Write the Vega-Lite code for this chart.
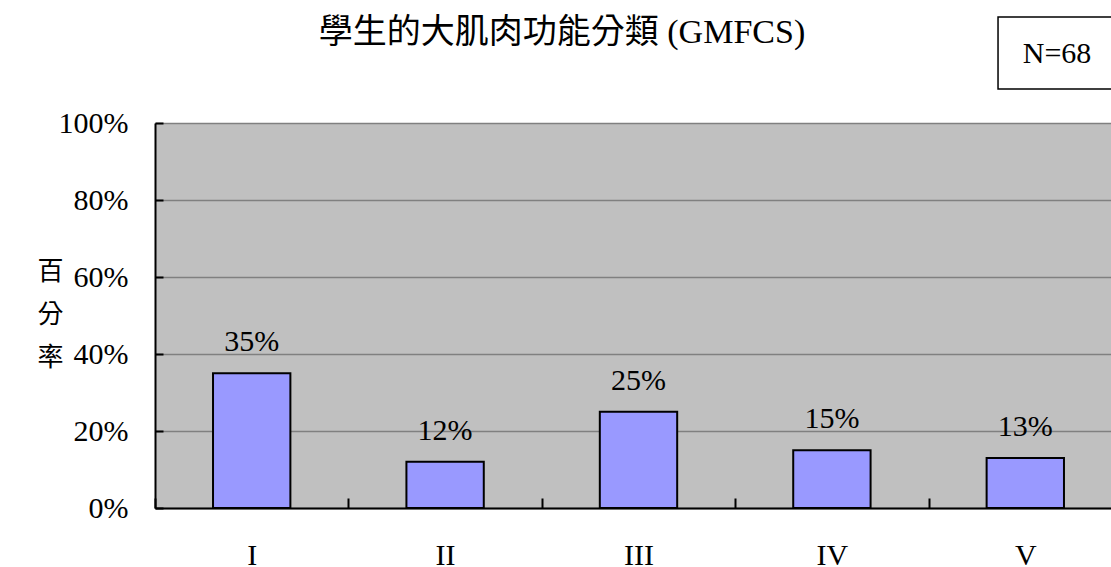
{
  "$schema": "https://vega.github.io/schema/vega-lite/v6.json",
  "autosize": {"type": "none"},
  "width": 956,
  "height": 385,
  "padding": {"left": 155, "top": 123, "right": 0, "bottom": 59},
  "background": "white",
  "title": {
    "text": "學生的大肌肉功能分類 (GMFCS)",
    "font": "Liberation Serif, Noto Sans CJK TC",
    "fontSize": 34,
    "fontWeight": "normal",
    "color": "black",
    "anchor": "middle",
    "frame": "group",
    "dx": -71,
    "offset": -61,
    "baseline": "alphabetic"
  },
  "config": {
    "view": {"fill": "#C0C0C0", "stroke": null},
    "font": "Liberation Serif"
  },
  "data": {
    "values": [
      {"grade": "I", "pct": 0.35},
      {"grade": "II", "pct": 0.12},
      {"grade": "III", "pct": 0.25},
      {"grade": "IV", "pct": 0.15},
      {"grade": "V", "pct": 0.13}
    ]
  },
  "layer": [
    {
      "mark": {"type": "bar", "fill": "#9999FF", "stroke": "black", "strokeWidth": 2, "width": {"band": 0.4}},
      "encoding": {
        "x": {
          "field": "grade",
          "type": "nominal",
          "sort": null,
          "scale": {"range": [0, 967], "paddingInner": 0, "paddingOuter": 0},
          "axis": {
            "title": null,
            "labelAngle": 0,
            "labelFont": "Liberation Serif",
            "labelFontSize": 30,
            "labelColor": "black",
            "labelBaseline": "alphabetic",
            "labelPadding": 66,
            "domainColor": "black",
            "domainWidth": 2,
            "tickColor": "black",
            "tickWidth": 2,
            "tickSize": -10,
            "tickBand": "extent",
            "grid": false
          }
        },
        "y": {
          "field": "pct",
          "type": "quantitative",
          "scale": {"domain": [0, 1], "nice": false},
          "axis": {
            "title": ["百", "分", "率"],
            "titleAngle": 0,
            "titleFont": "Noto Sans CJK TC",
            "titleFontSize": 26,
            "titleFontWeight": "normal",
            "titleLineHeight": 43,
            "titleX": -105,
            "titleY": 148,
            "titleAlign": "center",
            "titleBaseline": "middle",
            "titleColor": "black",
            "values": [0, 0.2, 0.4, 0.6, 0.8, 1],
            "format": ".0%",
            "labelFont": "Liberation Serif",
            "labelFontSize": 30,
            "labelColor": "black",
            "labelPadding": 35,
            "labelFlush": false,
            "labelOverlap": false,
            "tickSize": -8,
            "tickWidth": 2,
            "tickColor": "black",
            "domainColor": "black",
            "domainWidth": 2,
            "grid": true,
            "gridColor": "#808080",
            "gridWidth": 1.5
          }
        }
      }
    },
    {
      "mark": {"type": "text", "dy": -22, "baseline": "alphabetic", "align": "center", "font": "Liberation Serif", "fontSize": 30, "color": "black"},
      "encoding": {
        "x": {"field": "grade", "type": "nominal", "sort": null},
        "y": {"field": "pct", "type": "quantitative"},
        "text": {"field": "pct", "type": "quantitative", "format": ".0%"}
      }
    },
    {
      "data": {"values": [{"grade": "V", "note": "N=68"}]},
      "mark": {"type": "rect", "fill": "white", "stroke": "black", "strokeWidth": 1.5, "clip": false},
      "encoding": {
        "x": {"field": "grade", "type": "nominal", "sort": null, "bandPosition": 0.359},
        "x2": {"datum": "V", "bandPosition": 1},
        "y": {"datum": 1.0883, "type": "quantitative"},
        "y2": {"datum": 1.2753}
      }
    },
    {
      "data": {"values": [{"grade": "V", "note": "N=68"}]},
      "mark": {"type": "text", "baseline": "alphabetic", "align": "center", "font": "Liberation Serif", "fontSize": 30, "color": "black", "clip": false},
      "encoding": {
        "x": {"field": "grade", "type": "nominal", "sort": null, "bandPosition": 0.664},
        "y": {"datum": 1.1558, "type": "quantitative"},
        "text": {"field": "note", "type": "nominal"}
      }
    }
  ]
}
